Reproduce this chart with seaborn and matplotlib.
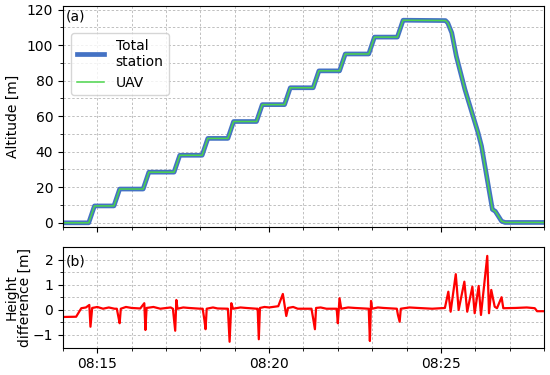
import numpy as np
import pandas as pd
import matplotlib
matplotlib.use("Agg")
import matplotlib.pyplot as plt
import matplotlib.dates as mdates
import seaborn as sns

# ---------------- data ----------------
# altitude vertices, seconds after 08:14:00
alt_sec = [0, 45, 55, 89, 99, 140, 150, 194, 204, 243, 253, 288, 298, 338, 348,
           387, 397, 437, 447, 483, 493, 534, 544, 584, 594, 668, 672, 679, 687,
           702, 725, 731, 743, 750, 755, 766, 772, 840]
alt_ts = [0, 0, 9.5, 9.5, 19, 19, 28.5, 28.5, 38, 38, 47.5, 47.5, 57, 57, 66.5,
          66.5, 76, 76, 85.5, 85.5, 95, 95, 104.5, 104.5, 114, 113.8, 112.5, 106.9,
          93.7, 75, 50.6, 43.1, 20.6, 7.5, 6.5, 0.9, 0.2, 0.2]
alt_uav = list(alt_ts)  # UAV track lies on top of the total station track

# height difference vertices, seconds after 08:14:00 (one event per line)
diff_sec = [0, 23, 32, 40,
            46, 48, 51, 60, 70, 80, 90,
            94, 97, 99, 101, 110, 120, 135,
            142, 144, 146, 158, 170, 188,
            192, 196, 198, 200, 210, 220, 240,
            244, 247, 249, 251, 262, 270, 288,
            291, 294, 297, 310, 320, 338,
            340, 342, 344, 352, 360, 376,
            384, 390, 393, 402, 410, 430,
            434, 437, 440, 442, 450, 460, 478,
            480, 483, 486, 498, 510, 534,
            536, 538, 540, 550, 560, 583,
            585, 588, 590, 605, 620, 645, 667,
            673, 677, 686, 691, 701, 706, 715, 719, 726, 730, 741, 744,
            748, 754, 758, 766, 769, 790, 810, 824, 828, 840]
diff_m = [-0.28, -0.27, 0.07, 0.1,
          0.2, -0.67, 0.08, 0.12, 0.05, 0.1, 0.05,
          0.05, -0.3, -0.53, 0.05, 0.12, 0.08, 0.06,
          0.27, -0.8, 0.08, 0.12, 0.05, 0.1,
          0.05, -0.83, 0.4, 0.05, 0.1, 0.08, 0.05,
          0.05, -0.4, -0.77, 0.05, 0.1, 0.06, 0.05,
          -1.27, 0.27, 0.05, 0.1, 0.08, 0.05,
          0.05, -1.17, 0.08, 0.12, 0.1, 0.15,
          0.64, -0.24, 0.08, 0.12, 0.05, 0.05,
          0.05, -0.35, -0.77, 0.08, 0.1, 0.05, 0.05,
          -0.53, 0.47, 0.05, 0.1, 0.08, 0.05,
          -1.24, 0.36, 0.05, 0.1, 0.08, 0.05,
          -0.2, -0.47, 0.05, 0.1, 0.08, 0.05, 0.08,
          0.73, -0.07, 1.43, 0.0, 1.13, -0.07, 0.93, -0.13, 0.96, -0.2, 2.16, -0.13,
          0.8, 0.13, 0.07, 0.51, 0.07, 0.08, 0.1, 0.07, -0.05, -0.05]

t0 = pd.Timestamp("2020-01-01 08:14:00")
df_alt = pd.DataFrame({"time": t0 + pd.to_timedelta(alt_sec, unit="s"),
                       "ts": alt_ts, "uav": alt_uav})
df_diff = pd.DataFrame({"time": t0 + pd.to_timedelta(diff_sec, unit="s"),
                        "diff": diff_m})

# ---------------- figure ----------------
plt.rcParams["font.family"] = ["DejaVu Sans"]
plt.rcParams["font.size"] = 10

fig = plt.figure(figsize=(5.5, 3.75), dpi=100)
ax1 = fig.add_axes([0.1145, 0.394, 0.8745, 0.59])
ax2 = fig.add_axes([0.1145, 0.0733, 0.8745, 0.267], sharex=ax1)

sns.lineplot(data=df_alt, x="time", y="ts", ax=ax1, color="#4472C4",
             linewidth=3.4, label="Total\nstation", estimator=None, sort=False)
sns.lineplot(data=df_alt, x="time", y="uav", ax=ax1, color="#4CD44C",
             linewidth=1.1, label="UAV", estimator=None, sort=False)
sns.lineplot(data=df_diff, x="time", y="diff", ax=ax2, color="red",
             linewidth=1.6, estimator=None, sort=False, legend=False)

# axes limits and ticks
ax1.set_xlim(t0, t0 + pd.Timedelta(minutes=14))
ax1.set_ylim(-2.5, 122)
ax1.set_yticks(np.arange(0, 121, 20))
ax1.set_yticks(np.arange(10, 120, 20), minor=True)
ax2.set_ylim(-1.5, 2.5)
ax2.set_yticks([-1, 0, 1, 2])
ax2.set_yticks([-0.5, 0.5, 1.5], minor=True)

ax2.xaxis.set_major_locator(mdates.MinuteLocator(byminute=[15, 20, 25]))
ax2.xaxis.set_minor_locator(mdates.MinuteLocator())
ax2.xaxis.set_major_formatter(mdates.DateFormatter("%H:%M"))
plt.setp(ax1.get_xticklabels(), visible=False)

for ax in (ax1, ax2):
    ax.grid(True, which="both", linestyle=(0, (2.5, 2)), color="#c0c0c0",
            linewidth=0.7)
    ax.set_axisbelow(True)
    ax.set_xlabel("")
    ax.tick_params(which="major", length=3.5)
    ax.tick_params(which="minor", length=2)

ax1.set_ylabel("Altitude [m]")
ax2.set_ylabel("Height\ndifference [m]", linespacing=1.0)
ax1.yaxis.set_label_coords(-0.09, 0.5)
ax2.yaxis.set_label_coords(-0.064, 0.5)

ax1.text(0.005, 0.985, "(a)", transform=ax1.transAxes, ha="left", va="top")
ax2.text(0.005, 0.93, "(b)", transform=ax2.transAxes, ha="left", va="top")

ax1.legend(loc="upper left", bbox_to_anchor=(0.017, 0.878), borderaxespad=0,
           handlelength=2.0, fontsize=10)

fig.savefig("out.png", dpi=100)
